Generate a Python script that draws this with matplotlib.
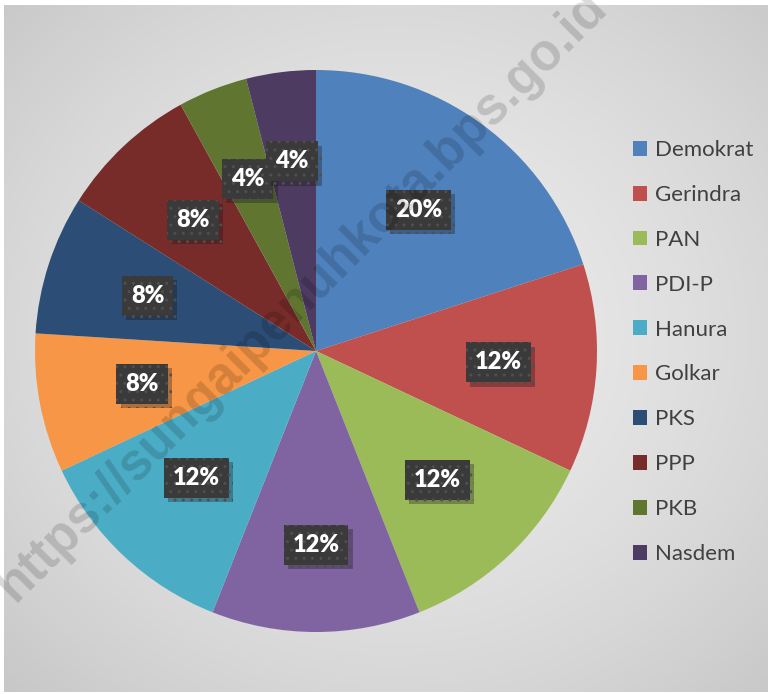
import numpy as np
import matplotlib.pyplot as plt
from matplotlib import patheffects as pe

parties = ["Demokrat", "Gerindra", "PAN", "PDI-P", "Hanura",
           "Golkar", "PKS", "PPP", "PKB", "Nasdem"]
seats = [5, 3, 3, 3, 3, 2, 2, 2, 1, 1]
colors = ["#4F81BD", "#C0504D", "#9BBB59", "#8064A2", "#4BACC6",
          "#F79646", "#2C4D75", "#772C2A", "#5F7530", "#4D3B62"]
# distance of each percentage label from the centre (fraction of radius)
label_r = [0.62, 0.65, 0.63, 0.69, 0.62, 0.63, 0.63, 0.64, 0.66, 0.68]

W, H = 772, 694
fig = plt.figure(figsize=(W / 100, H / 100), dpi=100)
fig.patch.set_facecolor("white")

# radial grey gradient behind the chart
bg = fig.add_axes([4 / W, 1 - 692 / H, 764 / W, 687 / H])
yy, xx = np.mgrid[0:687, 0:764]
d = np.sqrt(((xx - 390) / 520.0) ** 2 + ((yy - 330) / 470.0) ** 2)
shade = np.clip(0.925 - 0.13 * d ** 1.6, 0.76, 0.93)
bg.imshow(np.dstack([shade] * 3), aspect="auto", interpolation="bilinear")
bg.axis("off")

# pie
cx, cy, R = 316, 351, 281
ax = fig.add_axes([(cx - R) / W, 1 - (cy + R) / H, 2 * R / W, 2 * R / H])
wedges, texts, autotexts = ax.pie(
    seats, colors=colors, startangle=90, counterclock=False,
    autopct="%1.0f%%", pctdistance=0.65,
    wedgeprops=dict(linewidth=0),
    textprops=dict(color="white", fontsize=17, fontweight="heavy", family="Lato"))
ax.set_xlim(-1, 1)
ax.set_ylim(-1, 1)
for w, t, r in zip(wedges, autotexts, label_r):
    mid = np.deg2rad((w.theta1 + w.theta2) / 2)
    t.set_position((r * np.cos(mid), r * np.sin(mid)))
    t.set_bbox(dict(boxstyle="square,pad=0.38", facecolor="#3a3a3a",
                    edgecolor="#4f4f4f", hatch="..", linewidth=0))
    t.get_bbox_patch().set_path_effects(
        [pe.SimplePatchShadow(offset=(3, -3), alpha=0.3), pe.Normal()])

# legend
handles = [plt.Rectangle((0, 0), 1, 1, facecolor=c, edgecolor="none") for c in colors]
leg = fig.legend(handles, parties, loc="upper left",
                 bbox_to_anchor=(633 / W, 1 - 140 / H), frameon=False,
                 prop=dict(family="Lato", size=16), labelcolor="#404040",
                 handlelength=0.65, handleheight=0.65, handletextpad=0.35,
                 labelspacing=1.12, borderpad=0, borderaxespad=0)

# watermark
fig.text(302 / W, 1 - 297 / H, "https://sungaipenuhkota.bps.go.id",
         rotation=45, ha="center", va="center", fontsize=37,
         fontweight="bold", color="black", alpha=0.15,
         family="Liberation Sans", zorder=10)

fig.savefig("out.png", dpi=100)
